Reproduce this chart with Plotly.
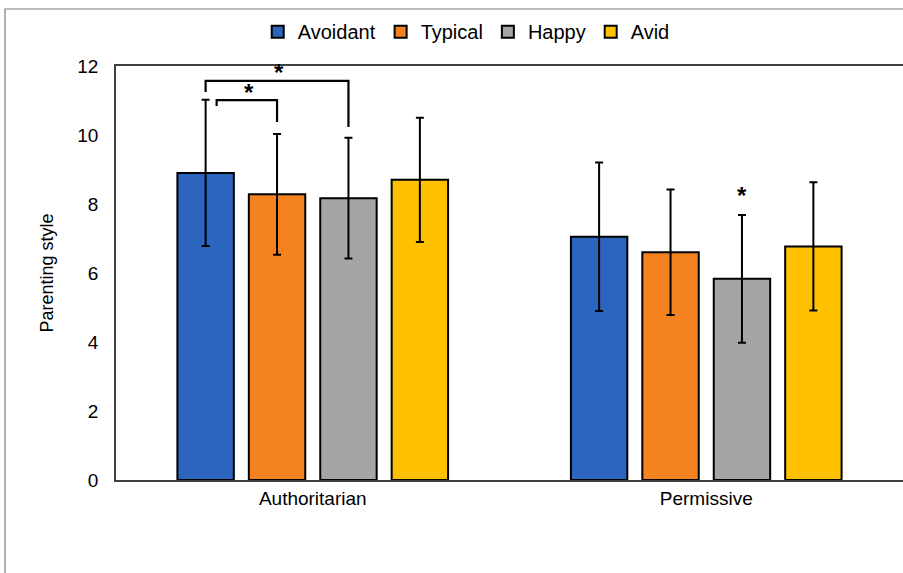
import plotly.graph_objects as go

# Parenting style scores by group (mean and SD)
categories = ["Authoritarian", "Permissive"]
groups = ["Avoidant", "Typical", "Happy", "Avid"]
means = {
    "Avoidant": [8.9, 7.05],
    "Typical": [8.28, 6.6],
    "Happy": [8.17, 5.83],
    "Avid": [8.7, 6.77],
}
sds = {
    "Avoidant": [2.12, 2.15],
    "Typical": [1.75, 1.82],
    "Happy": [1.75, 1.85],
    "Avid": [1.8, 1.86],
}
colors = {
    "Avoidant": "#2B65BE",
    "Typical": "#F58220",
    "Happy": "#A5A5A5",
    "Avid": "#FFC000",
}

FONT = "Liberation Sans, Arial, sans-serif"
BARGAP = 0.274
slot = (1 - BARGAP) / len(groups)


def bar_x(cat_idx, grp_idx):
    return cat_idx + (grp_idx - (len(groups) - 1) / 2) * slot


fig = go.Figure()
for g in groups:
    fig.add_trace(go.Bar(
        name=g, x=categories, y=means[g],
        marker=dict(color=colors[g], line=dict(color="black", width=2)),
        error_y=dict(type="data", array=sds[g], color="black",
                     thickness=2, width=4),
    ))

# significance brackets (Avoidant vs Happy, Avoidant vs Typical)
brackets = [
    # (from group, to group, left end y, bar y, right end y, star y)
    (0, 2, 11.25, 11.57, 10.23, 11.8),
    (0, 1, 10.84, 11.01, 10.38, 11.22),
]
shapes = []
annotations = []
for gi, gj, yl, yb, yr, ys in brackets:
    x0 = bar_x(0, gi) + (0.028 if gj == 1 else 0)
    x1 = bar_x(0, gj)
    shapes.append(dict(
        type="path", xref="x", yref="y",
        path=f"M {x0},{yl} L {x0},{yb} L {x1},{yb} L {x1},{yr}",
        line=dict(color="black", width=2.2),
    ))
    annotations.append(dict(
        x=(x0 + x1) / 2 + 0.006, y=ys, xref="x", yref="y", text="<b>*</b>",
        showarrow=False, font=dict(size=24, color="black", family=FONT),
    ))
# single star over Permissive / Happy
annotations.append(dict(
    x=bar_x(1, 2), y=8.25, xref="x", yref="y", text="<b>*</b>",
    showarrow=False, font=dict(size=24, color="black", family=FONT),
))

# outer chart frame
shapes.append(dict(
    type="rect", xref="paper", yref="paper",
    x0=-0.141, y0=-0.4, x1=1.1, y1=1.1377,
    line=dict(color="#7F7F7F", width=1.2), layer="below",
))

fig.update_layout(
    width=903, height=573,
    margin=dict(l=116, r=0, t=66, b=93, autoexpand=False),
    paper_bgcolor="white", plot_bgcolor="white",
    barmode="group", bargap=BARGAP, bargroupgap=0.21,
    font=dict(family=FONT, color="black"),
    legend=dict(
        orientation="h", x=0.445, xanchor="center", y=1.083, yanchor="middle",
        font=dict(size=20, family=FONT), itemwidth=30,
        traceorder="normal", bgcolor="rgba(0,0,0,0)",
    ),
    xaxis=dict(
        showline=True, linecolor="#404040", linewidth=1.5, mirror=True,
        ticks="", tickfont=dict(size=19, family=FONT), showgrid=False,
    ),
    yaxis=dict(
        range=[0, 12], dtick=2, showline=True, linecolor="#404040",
        linewidth=1.5, showgrid=False, ticks="", zeroline=False,
        tickfont=dict(size=19, family=FONT), ticklabelstandoff=12,
        title=dict(text="Parenting style", font=dict(size=18, family=FONT),
                   standoff=19),
    ),
    shapes=shapes,
    annotations=annotations,
)

fig.write_html("out.html")
